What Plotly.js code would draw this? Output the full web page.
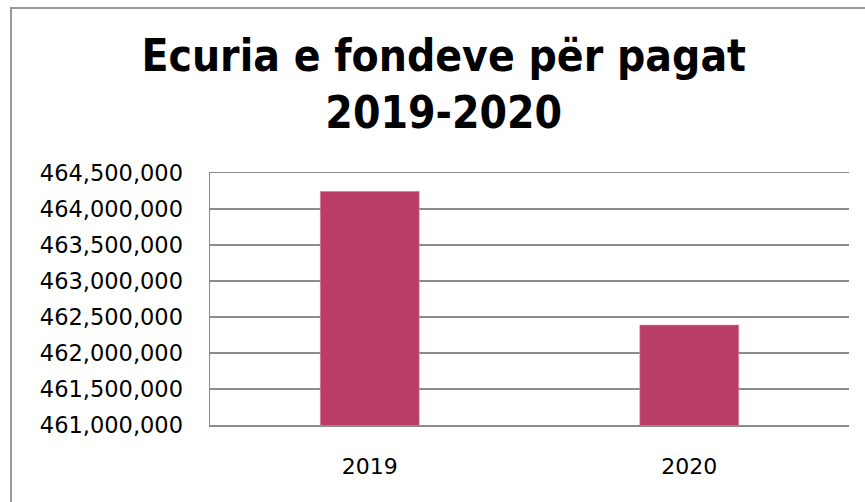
<!DOCTYPE html>
<html>
<head>
<meta charset="utf-8">
<script src="https://cdn.plot.ly/plotly-3.0.1.min.js"></script>
<style>
html,body{margin:0;padding:0;background:#fff;overflow:hidden;}
#chart{width:865px;height:502px;position:absolute;left:0;top:0;}
#frame{position:absolute;left:10px;top:7px;width:900px;height:600px;border-left:2px solid #989898;border-top:2px solid #989898;pointer-events:none;}
</style>
</head>
<body>
<div id="chart"></div>
<div id="frame"></div>
<script>
const categories = ["2019", "2020"];
const values = [464245000, 462390000];
const yTickVals = [461000000, 461500000, 462000000, 462500000, 463000000, 463500000, 464000000, 464500000];
const yTickText = ["461,000,000", "461,500,000", "462,000,000", "462,500,000", "463,000,000", "463,500,000", "464,000,000", "464,500,000"];
const titleText = "Ecuria e fondeve për pagat<br>2019-2020";

const trace = {
  type: "bar",
  x: categories,
  y: values,
  marker: {color: "#BA3D68", line: {color: "#E6A3BA", width: 0.5}},
  width: 0.31,
  hoverinfo: "x+y"
};

const layout = {
  width: 865,
  height: 502,
  margin: {l: 210, r: 16, t: 173, b: 77},
  paper_bgcolor: "#ffffff",
  plot_bgcolor: "#ffffff",
  showlegend: false,
  title: {
    text: titleText,
    font: {family: "DejaVu Sans Condensed, DejaVu Sans", size: 44, color: "#000000", weight: "bold"},
    xref: "container", x: 0.513, xanchor: "center",
    yref: "container", y: 0.859, yanchor: "top"
  },
  xaxis: {
    type: "category",
    showgrid: false,
    showline: true,
    mirror: true,
    linecolor: "#8c8c8c",
    linewidth: 1.5,
    ticks: "",
    ticklabelstandoff: 21,
    tickfont: {family: "DejaVu Sans", size: 22, color: "#000000"}
  },
  yaxis: {
    range: [461000000, 464500000],
    tickvals: yTickVals,
    ticktext: yTickText,
    showgrid: true,
    gridcolor: "#8c8c8c",
    gridwidth: 1.5,
    showline: true,
    linecolor: "#8c8c8c",
    linewidth: 1.5,
    zeroline: false,
    ticks: "",
    ticklabelstandoff: 21,
    tickfont: {family: "DejaVu Sans", size: 22.5, color: "#000000"}
  }
};

Plotly.newPlot("chart", [trace], layout, {displayModeBar: false, staticPlot: true});
</script>
</body>
</html>
